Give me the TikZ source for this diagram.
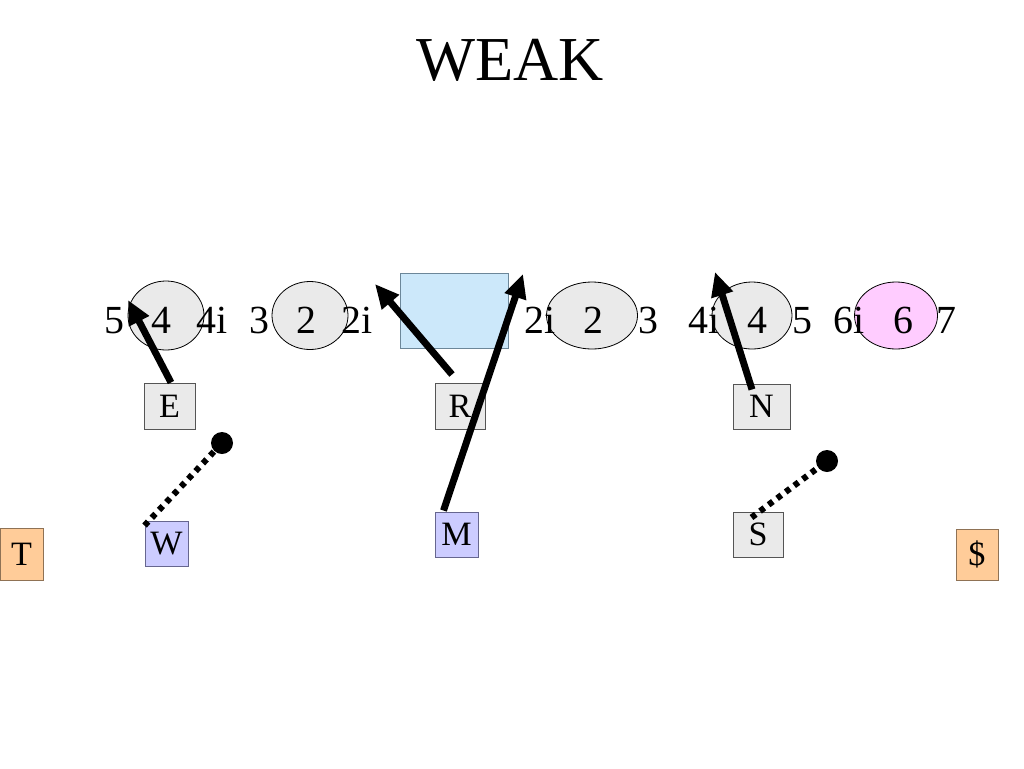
\documentclass[tikz,border=0pt]{standalone}
\usepackage{fontspec}
\setmainfont{Liberation Serif}
\usetikzlibrary{arrows.meta,shapes.geometric,calc}
\definecolor{grayfill}{HTML}{EAEAEA}
\definecolor{grayline}{HTML}{555555}
\definecolor{bluefill}{HTML}{CCE8FA}
\definecolor{blueline}{HTML}{6C8799}
\definecolor{lavfill}{HTML}{CCCCFF}
\definecolor{lavline}{HTML}{66668F}
\definecolor{orfill}{HTML}{FFCC99}
\definecolor{orline}{HTML}{8F7255}
\definecolor{pinkfill}{HTML}{FFCCFF}
\def\pxu{0.75pt}
\begin{document}
\begin{tikzpicture}[x=0.75pt,y=-0.75pt,
  num/.style={font=\fontsize{29.9}{32}\selectfont, anchor=base, inner sep=0pt},
  oval/.style={ellipse, draw=black, line width=0.6pt, fill=grayfill, inner sep=0pt},
  box/.style={draw=grayline, line width=0.75pt, fill=grayfill, inner sep=0pt,
    font=\fontsize{25.6}{28}\selectfont},
  lavbox/.style={box, draw=lavline, fill=lavfill},
  orbox/.style={box, draw=orline, fill=orfill},
  arr/.style={line width=5.2pt, -{Triangle[length=18pt,width=16pt]}},
  dotline/.style={line width=4.6pt, dash pattern=on 4pt off 4pt},
  dotend/.style={circle, fill=black, inner sep=0pt}
]
\useasboundingbox (0,0) rectangle (1024,768);

% title
\node[font=\fontsize{46.9}{50}\selectfont, anchor=base, inner sep=0pt] (title) at (510,80) {WEAK};

% ellipses and gap
\node[oval, minimum width=76*\pxu, minimum height=69*\pxu] (o1) at (166,315.5) {};
\node[oval, minimum width=76*\pxu, minimum height=68*\pxu] (o2) at (310,315.5) {};
\node[oval, minimum width=91*\pxu, minimum height=67*\pxu] (o3) at (592,315.5) {};
\node[oval, minimum width=80*\pxu, minimum height=67*\pxu] (o4) at (752,315.5) {};
\node[oval, fill=pinkfill, minimum width=83*\pxu, minimum height=67*\pxu] (o5) at (896,315.5) {};
\node[draw=blueline, line width=0.75pt, fill=bluefill, minimum width=108*\pxu, minimum height=75*\pxu, inner sep=0pt] (gap) at (454,310.5) {};

% numbers
\node[num] (n1) at (114,333) {5};
\node[num] (n2) at (161,333) {4};
\node[num] (n3) at (212,333) {4i};
\node[num] (n4) at (259,333) {3};
\node[num] (n5) at (306,333) {2};
\node[num] (n6) at (357,333) {2i};
\node[num] (n7) at (540,333) {2i};
\node[num] (n8) at (593,333) {2};
\node[num] (n9) at (648,333) {3};
\node[num] (n10) at (704,333) {4i};
\node[num] (n11) at (757,333) {4};
\node[num] (n12) at (802,333) {5};
\node[num] (n13) at (849,333) {6i};
\node[num] (n14) at (903,333) {6};
\node[num] (n15) at (946,333) {7};

% players
\node[box, minimum width=51*\pxu, minimum height=46*\pxu] (E) at (169.5,406) {E};
\node[box, minimum width=50*\pxu, minimum height=46*\pxu] (R) at (460,406) {R};
\node[box, minimum width=57*\pxu, minimum height=45*\pxu] (N) at (761.5,406.5) {N};
\node[lavbox, minimum width=43*\pxu, minimum height=45*\pxu] (W) at (166.5,543.5) {W};
\node[lavbox, minimum width=43*\pxu, minimum height=45*\pxu] (M) at (456.5,534.5) {M};
\node[box, minimum width=50*\pxu, minimum height=45*\pxu] (S) at (758,534.5) {S};
\node[orbox, minimum width=43*\pxu, minimum height=52*\pxu] (T) at (21.5,554) {T};
\node[orbox, minimum width=42*\pxu, minimum height=51*\pxu] (D) at (977,554.5) {\$};

% arrow tips
\coordinate (tE) at (128,300);
\coordinate (tR) at (375,284);
\coordinate (tM) at (523,274);
\coordinate (tN) at (715,272);

\draw[arr] ($(E.north)+(1.5,0)$) -- (tE);
\draw[arr] ($(R.north)+(-8,-8)$) -- (tR);
\draw[arr] ($(M.north)+(-13,-1)$) -- (tM);
\draw[arr] ($(N.north)+(-9.5,6)$) -- (tN);

% dotted routes
\node[dotend, minimum size=22*\pxu] (dW) at (222,443) {};
\node[dotend, minimum size=22*\pxu] (dS) at (827,461) {};
\draw[dotline] ($(W.north west)+(0,5)$) -- (dW.center);
\draw[dotline] ($(S.north west)+(19,6)$) -- (dS.center);
\end{tikzpicture}
\end{document}
